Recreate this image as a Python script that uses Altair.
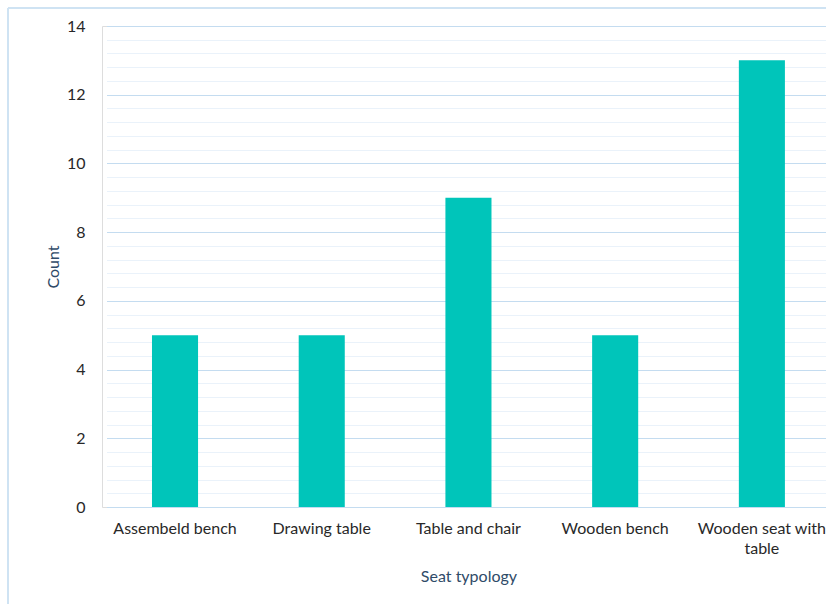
import altair as alt
import pandas as pd

# Seat typology counts
categories = ["Assembeld bench", "Drawing table", "Table and chair", "Wooden bench", "Wooden seat with table"]
counts = [5, 5, 9, 5, 13]

grid_values = [round(i * 0.4, 1) for i in range(36)]

df = pd.DataFrame({"typology": categories, "count": counts})

FONT = "Lato"
TEAL = "#00c5ba"

# Wrap the long category name onto two lines
label_expr = (
    "datum.value == 'Wooden seat with table' ? ['Wooden seat with', 'table'] : datum.label"
)

bars = alt.Chart(df).mark_bar(color=TEAL).encode(
    x=alt.X(
        "typology:N",
        sort=categories,
        title="Seat typology",
        scale=alt.Scale(paddingInner=0.686, paddingOuter=0.31, range=[4.5, 728.4]),
        axis=alt.Axis(
            labelAngle=0,
            labelExpr=label_expr,
            labelFont=FONT,
            labelFontSize=16,
            labelColor="#282828",
            labelPadding=13,
            labelLineHeight=20,
            ticks=False,
            domain=False,
            titleFont=FONT,
            titleFontSize=16,
            titleFontWeight="normal",
            titleColor="#2f4b68",
            titlePadding=12,
        ),
    ),
    y=alt.Y(
        "count:Q",
        title="Count",
        scale=alt.Scale(domain=[0, 14], nice=False),
        axis=alt.Axis(
            values=grid_values,
            labelExpr="datum.value % 2 === 0 ? toString(round(datum.value)) : ''",
            labelOverlap=False,
            labelFont=FONT,
            labelFontSize=16,
            labelColor="#282828",
            labelPadding=17,
            ticks=False,
            domain=False,
            gridColor={
                "condition": {"test": "datum.value % 2 === 0", "value": "#c4dcf0"},
                "value": "#eaf2fa",
            },
            gridWidth=1,
            titleFont=FONT,
            titleFontSize=16,
            titleFontWeight="normal",
            titleColor="#2f4b68",
            titlePadding=5,
        ),
    ),
)

# Outer frame of the chart (left and top edges)
frame_left = alt.Chart(df).mark_rule(color="#cfe3f3", strokeWidth=1.5).encode(
    x=alt.value(-94), y=alt.value(-18), y2=alt.value(600)
)
frame_top = alt.Chart(df).mark_rule(color="#cfe3f3", strokeWidth=1.5).encode(
    x=alt.value(-94), x2=alt.value(760), y=alt.value(-18)
)

chart = (
    alt.layer(frame_left, frame_top, bars)
    .properties(
        width=724,
        height=481,
        autosize=alt.AutoSizeParams(type="none"),
        padding={"left": 102, "top": 26, "right": 0, "bottom": 97},
    )
    .configure_view(stroke=None)
    .configure(background="white")
)

chart.save("out.html", embed_options={"renderer": "svg", "actions": False})
